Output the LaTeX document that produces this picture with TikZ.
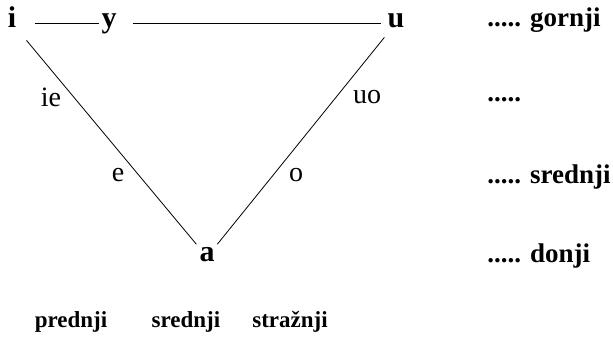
\documentclass[tikz,border=0pt]{standalone}
\usepackage{fontspec}
\setmainfont{Liberation Serif}
\usetikzlibrary{positioning}

\begin{document}
\begin{tikzpicture}[x=0.5pt,y=-0.5pt]
		\tikzset{vowel/.style={font=\bfseries\fontsize{15}{17}\selectfont, inner sep=1pt, text height=0.42em, text depth=0pt},
			sub/.style={font=\fontsize{14}{16}\selectfont, inner sep=1pt},
			level/.style={font=\bfseries\fontsize{13.5}{16}\selectfont, anchor=west, inner sep=0pt},
			row/.style={font=\bfseries\fontsize{11.5}{14}\selectfont, inner sep=0pt}}
		\useasboundingbox (0,0) rectangle (613,345);
		\node[vowel] (i) at (12,23) {i};
		\node[vowel] (y) at (109,23) {y};
		\node[vowel] (u) at (396,23) {u};
		\node[vowel] (a) at (207,257) {a};
		\draw[shorten <=8pt] (i) -- (y);
		\draw[shorten <=7pt, shorten >=2pt] (y) -- (u);
		\draw[shorten <=7pt, shorten >=4pt] (i) -- (a);
		\draw[shorten <=5pt, shorten >=4pt] (u) -- (a);
		\node[sub] (ie) at (51,97) {ie};
		\node[sub] (e) at (118,175) {e};
		\node[sub] (o) at (296,175) {o};
		\node[sub] (uo) at (367,97) {uo};
		% razine
		\node[level] (gornji) at (487,20) {..... gornji};
		\node[level] (mid) at (487,100) {.....};
		\node[level] (srednjiR) at (487,177) {..... srednji};
		\node[level] (donji) at (487,256) {..... donji};
		% redovi
		\node[row] (prednji) at (71,322) {prednji};
		\node[row] (srednjiB) at (186,322) {srednji};
		\node[row] (straznji) at (290,322) {stražnji};
	\end{tikzpicture}
\end{document}
